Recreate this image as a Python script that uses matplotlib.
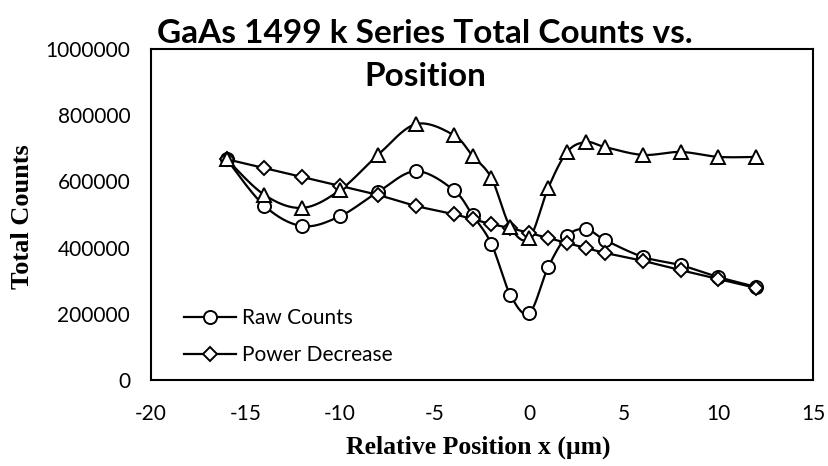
import numpy as np
import matplotlib
matplotlib.use("Agg")
import matplotlib.pyplot as plt

# positions (um)
x = [-16, -14, -12, -10, -8, -6, -4, -3, -2, -1, 0, 1, 2, 3, 4, 6, 8, 10, 12]

raw_counts = [667000, 526000, 465000, 495000, 568000, 631000, 574000, 498000, 411000,
              257000, 202000, 341000, 435000, 456000, 423000, 372000, 347000, 311000, 281000]
power_decrease = [667000, 640000, 613000, 586000, 559000, 526000, 501000, 486000, 471000,
                  459000, 444000, 429000, 414000, 399000, 384000, 360000, 332000, 305000, 278000]
third_series = [667000, 559000, 520000, 574000, 680000, 773000, 740000, 677000, 610000,
                462000, 429000, 580000, 689000, 719000, 704000, 680000, 689000, 674000, 674000]

xticks = [-20, -15, -10, -5, 0, 5, 10, 15]
yticks = [0, 200000, 400000, 600000, 800000, 1000000]


def smooth(xs, ys, n=20):
    # catmull-rom curve through the points, like excel "smoothed line"
    p = np.column_stack([xs, ys]).astype(float)
    p = np.vstack([p[0], p, p[-1]])
    out = []
    t = np.linspace(0, 1, n, endpoint=False)[:, None]
    for i in range(1, len(p) - 2):
        p0, p1, p2, p3 = p[i - 1], p[i], p[i + 1], p[i + 2]
        seg = 0.5 * ((2 * p1) + (-p0 + p2) * t + (2 * p0 - 5 * p1 + 4 * p2 - p3) * t ** 2
                     + (-p0 + 3 * p1 - 3 * p2 + p3) * t ** 3)
        out.append(seg)
    out.append(p[-2][None, :])
    out = np.vstack(out)
    return out[:, 0], out[:, 1]


tick_font = "Lato"

fig = plt.figure(figsize=(8.29, 4.66), dpi=100)
ax = fig.add_axes([151 / 829, 1 - 380 / 466, 662 / 829, 331 / 466])

series = [(raw_counts, "o", 9.4, "Raw Counts"),
          (power_decrease, "D", 7.0, "Power Decrease"),
          (third_series, "^", 10.5, None)]
for ys, m, ms, lab in series:
    sx, sy = smooth(x, ys)
    ax.plot(sx, sy, color="black", lw=1.6, zorder=2)
    ax.plot(x, ys, linestyle="none", marker=m, ms=ms, mfc="white", mec="black", mew=1.4, zorder=3)
    if lab:
        ax.plot([], [], color="black", lw=1.6, marker=m, ms=ms, mfc="white", mec="black",
                mew=1.4, label=lab)

ax.set_xlim(-20, 15)
ax.set_ylim(0, 1000000)
ax.set_xticks(xticks)
ax.set_yticks(yticks)
ax.set_xticklabels([str(v) for v in xticks], fontsize=15, family=tick_font)
ax.set_yticklabels([str(v) for v in yticks], fontsize=15, family=tick_font)
ax.tick_params(axis="x", length=0, pad=17)
ax.tick_params(axis="y", length=0, pad=15)
for s in ax.spines.values():
    s.set_linewidth(1.5)
    s.set_color("black")

ax.set_xlabel("Relative Position x (\u03bcm)", family="Liberation Serif", weight="bold", fontsize=18.5)
ax.set_ylabel("Total Counts", family="Liberation Serif", weight="bold", fontsize=19)
ax.xaxis.set_label_coords(0.494, -0.168)
ax.yaxis.set_label_coords(-0.177, 0.495)

fig.text(425 / 829, 1 - 55 / 466, "GaAs 1499 k Series Total Counts vs.\nPosition",
         ha="center", va="center", family=tick_font, weight="bold", fontsize=24, linespacing=1.6)

ax.legend(loc="lower left", bbox_to_anchor=(0.05, 0.045), frameon=False, borderpad=0,
          borderaxespad=0, handlelength=2.5, handletextpad=0.3, labelspacing=0.8,
          prop={"family": tick_font, "size": 15})

fig.savefig("out.png", dpi=100)
